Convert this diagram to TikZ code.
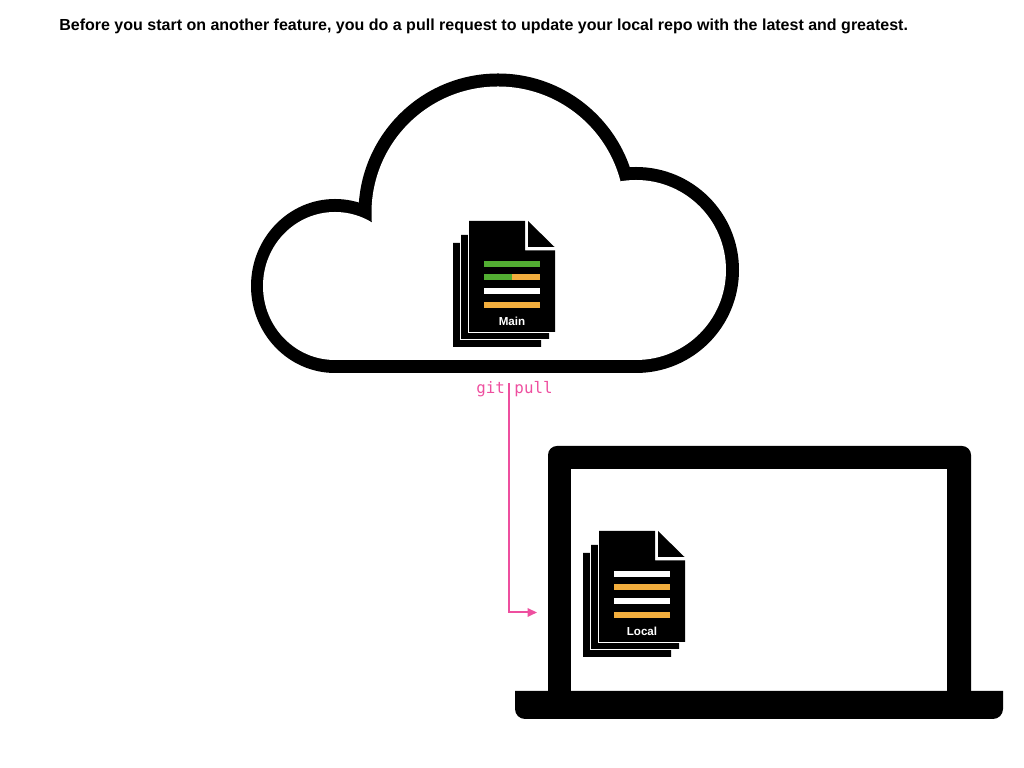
\documentclass[tikz,border=0pt]{standalone}
\usepackage{fontspec}
\setmainfont{Liberation Sans}
\newfontfamily\gitfont{DejaVu Sans Mono}
\usetikzlibrary{arrows.meta}
\definecolor{pullpink}{HTML}{EE4F9F}
\definecolor{linegreen}{HTML}{52AE32}
\definecolor{lineorange}{HTML}{F2AE3D}
\tikzset{
  docpage/.style = {preaction={draw=white,line width=0.06cm},fill=black},
  docbar/.style = {fill=#1},
  doclabel/.style = {white,font=\fontsize{6.6}{8}\selectfont\bfseries},
  docstack/.pic = {
    \path[docpage] (-0.32,-0.44) -- (0.5,-0.44) -- (0.5,-0.8) -- (1.44,-0.8) -- (1.44,-2.52) -- (-0.32,-2.52) -- cycle;
    \path[docpage] (-0.16,-0.28) -- (0.5,-0.28) -- (0.5,-0.8) -- (1.60,-0.8) -- (1.60,-2.36) -- (-0.16,-2.36) -- cycle;
    \path[docpage] (0,0) -- (1.12,0) -- (1.12,-0.59) -- (1.72,-0.59) -- (1.72,-2.22) -- (0,-2.22) -- cycle;
    \fill (1.18,0) -- (1.71,-0.52) -- (1.18,-0.52) -- cycle;
    \node[doclabel] (-label) at (0.86,-2.0) {#1};
  }
}

\begin{document}
\begin{tikzpicture}
  \useasboundingbox (0,0) rectangle (20.48,15.36);
  \node[anchor=base west,inner sep=0pt,font=\fontsize{9.11}{11}\selectfont\bfseries] (title) at (1.18,14.74)
    {Before you start on another feature, you do a pull request to update your local repo with the latest and greatest.};
  % cloud
  \fill (6.70,9.64) ellipse (1.68cm and 1.74cm);
  \fill (12.72,9.96) circle [radius=2.06];
  \fill (9.96,11.10) circle [radius=2.79];
  \fill (6.70,7.90) rectangle (12.72,10.5);
  \fill[white] (6.70,9.64) ellipse (1.44cm and 1.48cm);
  \fill[white] (12.72,9.96) circle [radius=1.80];
  \fill[white] (9.96,11.10) circle [radius=2.53];
  \fill[white] (6.70,8.16) rectangle (12.72,10.5);
  % laptop
  \fill[rounded corners=0.18cm] (10.96,1.2) -- (10.96,6.44) -- (19.42,6.44) -- (19.42,1.2) -- cycle;
  \fill[white] (11.42,1.54) rectangle (18.94,5.98);
  \fill (10.30,1.54) -- (20.06,1.54) [rounded corners=0.2cm] -- (20.06,0.98) -- (10.30,0.98) [sharp corners] -- cycle;
  % main repo
  \pic (main) at (9.38,10.94) {docstack=Main};
  \fill[docbar=linegreen] (9.68,10.13) rectangle (10.80,10.02);
  \fill[docbar=linegreen] (9.68,9.87) rectangle (10.24,9.75);
  \fill[docbar=lineorange] (10.24,9.87) rectangle (10.80,9.75);
  \fill[docbar=white] (9.68,9.59) rectangle (10.80,9.47);
  \fill[docbar=lineorange] (9.68,9.31) rectangle (10.80,9.19);
  % local repo
  \pic (local) at (11.98,4.74) {docstack=Local};
  \fill[docbar=white] (12.28,3.93) rectangle (13.40,3.82);
  \fill[docbar=lineorange] (12.28,3.67) rectangle (13.40,3.55);
  \fill[docbar=white] (12.28,3.39) rectangle (13.40,3.27);
  \fill[docbar=lineorange] (12.28,3.11) rectangle (13.40,2.99);
  % pull
  \node[anchor=base,inner sep=0pt,pullpink,font=\fontsize{9}{10}\gitfont] (gitpull) at (10.29,7.48) {git pull};
  \coordinate (pullstart) at (10.186,7.69);
  \coordinate (pullend) at (10.74,3.11);
  \draw[pullpink,line width=0.04cm,-{Triangle[length=0.19cm,width=0.17cm]}] (pullstart) |- (pullend);
\end{tikzpicture}
\end{document}
